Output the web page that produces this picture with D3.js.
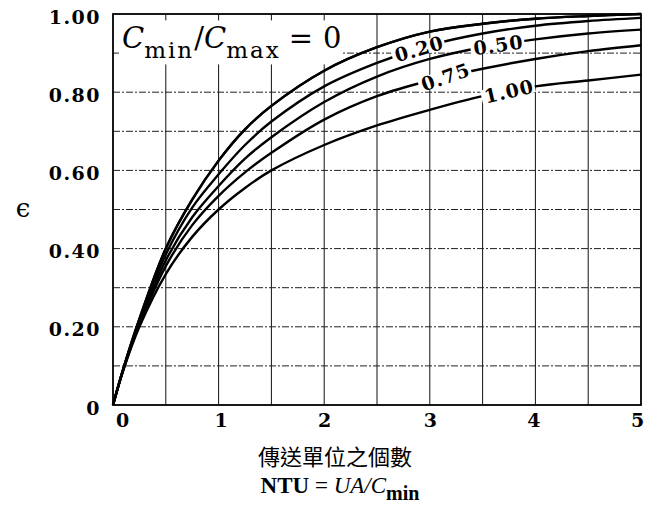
<!DOCTYPE html>
<html><head><meta charset="utf-8">
<script src="https://cdn.jsdelivr.net/npm/d3@7"></script>
<style>body{margin:0;background:#fff} svg{display:block;background:#fff}</style>
</head><body><svg id="c" width="646" height="513"></svg>
<script>
// ---- data ----
const ntu     = [0, 0.1, 0.25, 0.5, 0.75, 1, 1.25, 1.5, 2, 2.5, 3, 3.5, 4, 4.5, 5];
const eps_0   = [0, 0.095, 0.22, 0.40, 0.525, 0.625, 0.705, 0.765, 0.855, 0.915, 0.955, 0.975, 0.988, 0.995, 1.0];
const eps_020 = [0, 0.094, 0.215, 0.385, 0.505, 0.59, 0.665, 0.725, 0.815, 0.875, 0.92, 0.95, 0.97, 0.982, 0.99];
const eps_050 = [0, 0.093, 0.21, 0.37, 0.48, 0.56, 0.63, 0.685, 0.775, 0.84, 0.885, 0.915, 0.935, 0.95, 0.96];
const eps_075 = [0, 0.092, 0.205, 0.355, 0.46, 0.535, 0.595, 0.645, 0.73, 0.79, 0.83, 0.86, 0.885, 0.905, 0.92];
const eps_100 = [0, 0.091, 0.20, 0.335, 0.43, 0.50, 0.555, 0.60, 0.665, 0.715, 0.755, 0.79, 0.815, 0.83, 0.845];
const seriesNames = ["0", "0.20", "0.50", "0.75", "1.00"];
const labelNtu    = [null, 2.9, 3.65, 3.15, 3.75];
const labelAngle  = [0, -16, -8, -19, -13];
const xTicks = [0, 1, 2, 3, 4, 5];
const xTickShift = [9, 2, 0, 0, -2, -4];
const yTicks = [0, 0.2, 0.4, 0.6, 0.8, 1.0];
const xTitle1 = "傳送單位之個數";
const yTitle = "ϵ";

const series = [eps_0, eps_020, eps_050, eps_075, eps_100];

const svg = d3.select("#c");
const x = d3.scaleLinear().domain([0, 5]).range([113, 641]);
const y = d3.scaleLinear().domain([0, 1]).range([405, 14]);
const serif = "'DejaVu Serif', 'Liberation Serif', serif";

// grid
const g = svg.append("g");
g.selectAll("line.v").data(d3.range(0.5, 5, 0.5)).join("line")
  .attr("x1", d => x(d)).attr("x2", d => x(d))
  .attr("y1", y(0)).attr("y2", y(1))
  .attr("stroke", "#111").attr("stroke-width", 1);
g.selectAll("line.h").data(d3.range(1, 10).map(i => i / 10)).join("line")
  .attr("x1", x(0)).attr("x2", x(5))
  .attr("y1", d => y(d)).attr("y2", d => y(d))
  .attr("stroke", "#222").attr("stroke-width", 1)
  .attr("stroke-dasharray", "7,2,2,2");

// header label  C_min / C_max = 0 (its white box breaks the grid only)
const hdrG = svg.append("g");
const bg = hdrG.append("rect").attr("fill", "#fff");
const hdr = hdrG.append("text").attr("x", x(0) + 9).attr("y", y(0.912))
  .attr("font-family", serif).attr("font-size", 29).attr("fill", "#000");
hdr.append("tspan").attr("font-style", "italic").text("C");
hdr.append("tspan").attr("dy", 10).attr("font-size", 23).attr("letter-spacing", 2).text("min");
hdr.append("tspan").attr("dy", -10).text("/");
hdr.append("tspan").attr("font-style", "italic").text("C");
hdr.append("tspan").attr("dy", 10).attr("font-size", 23).attr("letter-spacing", 2).text("max");
hdr.append("tspan").attr("dy", -10).attr("dx", 8).text("=");
hdr.append("tspan").attr("dx", 10).text(seriesNames[0]);
const bb = hdr.node().getBBox();
bg.attr("x", bb.x - 3).attr("y", bb.y - 1).attr("width", bb.width + 4).attr("height", bb.height + 2);

// curves
const line = d3.line().x((d, i) => x(ntu[i])).y(d => y(d)).curve(d3.curveCatmullRom.alpha(0.5));
svg.append("g").selectAll("path").data(series).join("path")
  .attr("d", d => line(d)).attr("fill", "none")
  .attr("stroke", "#000").attr("stroke-width", 2.4);

// curve labels with white boxes breaking their curve
function interp(arr, t) {
  const i = d3.bisectRight(ntu, t) - 1;
  const f = (t - ntu[i]) / (ntu[i + 1] - ntu[i]);
  return arr[i] + f * (arr[i + 1] - arr[i]);
}
const labG = svg.append("g");
series.forEach((arr, k) => {
  if (labelNtu[k] == null) return;
  const px = x(labelNtu[k]), py = y(interp(arr, labelNtu[k]));
  const lg = labG.append("g").attr("transform", `translate(${px},${py}) rotate(${labelAngle[k]})`);
  const r = lg.append("rect").attr("fill", "#fff");
  const t = lg.append("text")
    .attr("text-anchor", "middle").attr("dy", "0.36em")
    .attr("font-family", serif).attr("font-size", 19).attr("font-weight", "bold").attr("letter-spacing", 1)
    .attr("fill", "#000").text(seriesNames[k]);
  const b = t.node().getBBox();
  r.attr("x", b.x - 3).attr("y", b.y + 4).attr("width", b.width + 4).attr("height", b.height - 8);
});
// top curve stays unbroken above the 0.20 label
svg.append("path").attr("d", line(eps_0)).attr("fill", "none")
  .attr("stroke", "#000").attr("stroke-width", 2.4);

// frame
svg.append("rect").attr("x", x(0)).attr("y", y(1))
  .attr("width", x(5) - x(0)).attr("height", y(0) - y(1))
  .attr("fill", "none").attr("stroke", "#000").attr("stroke-width", 1.8);

// axes
const ya = svg.append("g").attr("transform", `translate(${x(0)},3)`)
  .call(d3.axisLeft(y).tickValues(yTicks).tickSize(0).tickPadding(12)
    .tickFormat(d => d === 0 ? "0" : d3.format(".2f")(d)));
ya.select(".domain").remove();
ya.selectAll("text").attr("font-family", serif).attr("font-size", 19).attr("font-weight", "bold")
  .attr("letter-spacing", 1.5).attr("fill", "#000");

const xa = svg.append("g").attr("transform", `translate(0,${y(0)})`)
  .call(d3.axisBottom(x).tickValues(xTicks).tickSize(0).tickPadding(9).tickFormat(d3.format("d")));
xa.select(".domain").remove();
xa.selectAll("text").attr("font-family", serif).attr("font-size", 19).attr("font-weight", "bold")
  .attr("fill", "#000").attr("dx", (d, i) => xTickShift[i]);

// y title
svg.append("text").attr("x", 23).attr("y", y(0.48)).attr("text-anchor", "middle")
  .attr("font-family", serif).attr("font-size", 26).attr("fill", "#000").text(yTitle);

// x titles
svg.append("text").attr("x", 335).attr("y", 465).attr("text-anchor", "middle")
  .attr("font-family", "'Noto Sans CJK TC', sans-serif").attr("font-size", 22).attr("fill", "#000")
  .text(xTitle1);
const t2 = svg.append("text").attr("x", 340).attr("y", 493).attr("text-anchor", "middle")
  .attr("font-family", "'Liberation Serif', serif").attr("font-size", 23).attr("fill", "#000");
t2.append("tspan").attr("font-weight", "bold").text("NTU");
t2.append("tspan").text(" = ");
t2.append("tspan").attr("font-style", "italic").text("UA/C");
t2.append("tspan").attr("dy", 7).attr("font-size", 20).attr("font-weight", "bold").text("min");
</script>
</body></html>
